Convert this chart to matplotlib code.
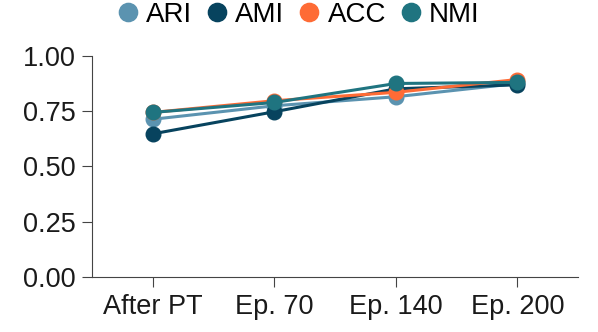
import matplotlib
matplotlib.use("Agg")
from matplotlib import pyplot as plt

stages = ["After PT", "Ep. 70", "Ep. 140", "Ep. 200"]
ari = [0.714, 0.775, 0.816, 0.876]
ami = [0.648, 0.748, 0.852, 0.870]
acc = [0.745, 0.798, 0.836, 0.894]
nmi = [0.745, 0.790, 0.876, 0.881]

series = [("ARI", ari, "#5b93b0"), ("AMI", ami, "#07435e"),
          ("ACC", acc, "#fe6b35"), ("NMI", nmi, "#1f7480")]

plt.rcParams["font.family"] = ["Liberation Sans", "DejaVu Sans"]

fig = plt.figure(figsize=(5.98, 3.32), dpi=100)
ax = fig.add_axes([0.154, 0.166, 0.813, 0.665])

x = range(len(stages))
for name, vals, color in series:
    ax.plot(x, vals, "-o", color=color, lw=2.2, ms=10.5, label=name)

ax.set_xlim(-0.5, 3.5)
ax.set_ylim(0, 1.0)
ax.set_yticks([0, 0.25, 0.5, 0.75, 1.0])
ax.set_yticklabels(["0.00", "0.25", "0.50", "0.75", "1.00"])
ax.set_xticks(list(x))
ax.set_xticklabels(stages)
ax.tick_params(labelsize=19.5, color="#444444", length=7, pad=5, labelcolor="#1a1a1a")
for s in ["top", "right"]:
    ax.spines[s].set_visible(False)
for s in ["left", "bottom"]:
    ax.spines[s].set_color("#444444")

leg = fig.legend(loc="center", bbox_to_anchor=(0.5, 0.955), ncol=4, frameon=False,
                 fontsize=20, handlelength=0.7, handletextpad=0.3, columnspacing=0.55,
                 markerscale=1.25)
for h in leg.legend_handles:
    h.set_linestyle("none")

fig.savefig("out.png", dpi=100)
